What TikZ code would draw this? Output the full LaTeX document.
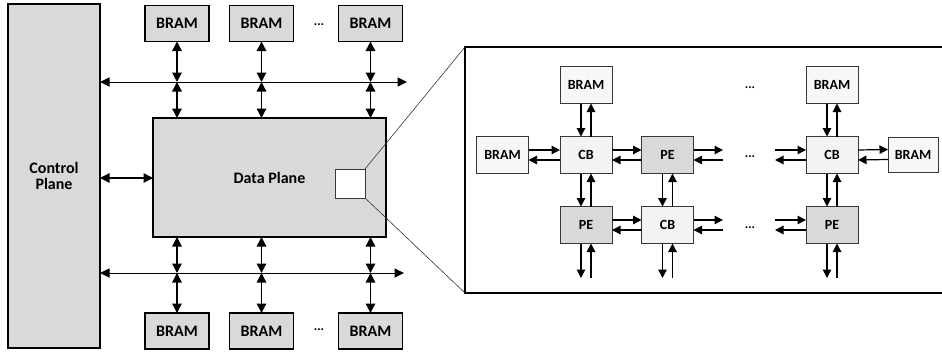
\documentclass[tikz,border=0pt]{standalone}
\usepackage{fontspec}
\setmainfont{Carlito}
\usetikzlibrary{arrows.meta}
\definecolor{boxgray}{RGB}{217,217,217}
\definecolor{pegray}{RGB}{217,217,217}
\definecolor{cbfill}{RGB}{243,243,243}
\definecolor{bramfill}{RGB}{247,247,247}
\definecolor{edgegray}{RGB}{55,55,55}
\begin{document}
\begin{tikzpicture}[x=1pt,y=-1pt,
  outerbox/.style={draw=black, line width=1.8pt, fill=boxgray, inner sep=0pt, outer sep=0pt, font=\fontsize{16}{18}\selectfont\bfseries},
  obram/.style={outerbox, minimum width=64pt, minimum height=36pt},
  innerbox/.style={draw=edgegray, line width=1pt, inner sep=0pt, outer sep=0pt, minimum width=52pt, minimum height=37pt, font=\fontsize{14}{16}\selectfont\bfseries},
  ibram/.style={innerbox, fill=bramfill},
  cbbox/.style={innerbox, fill=cbfill},
  pebox/.style={innerbox, fill=pegray},
  dots/.style={font=\fontsize{13}{13}\selectfont\bfseries, inner sep=0pt},
  biarrow/.style={line width=1.4pt, {Triangle[length=9.5pt,width=9.5pt]}-{Triangle[length=9.5pt,width=9.5pt]}},
  busarrow/.style={line width=1pt, {Triangle[length=9.5pt,width=9pt]}-{Triangle[length=9.5pt,width=9pt]}},
  iarrow/.style={line width=1.2pt, -{Triangle[length=8.5pt,width=8.5pt]}},
  zoomline/.style={draw=edgegray, line width=0.6pt}
]
\clip (0,0) rectangle (942,351);
\fill[white] (0,0) rectangle (942,351);

% ---------- left part ----------
\node[outerbox, minimum width=92pt, minimum height=344pt, align=center] (cp) at (54,176) {Control\\[-2pt]Plane};
\node[outerbox, minimum width=233pt, minimum height=119pt] (dp) at (269.5,177.5) {Data Plane};

\node[obram] (tb1) at (177,23.5) {BRAM};
\node[obram] (tb2) at (261.5,23.5) {BRAM};
\node[obram] (tb3) at (370.5,23.5) {BRAM};
\node[dots] (tdots) at (319,25) {...};

\node[obram] (bb1) at (177,331) {BRAM};
\node[obram] (bb2) at (261.5,331) {BRAM};
\node[obram] (bb3) at (370.5,331) {BRAM};
\node[dots] (bdots) at (319,330) {...};

\coordinate (busT) at (407,82);
\coordinate (busB) at (404,273);

\draw[busarrow] (cp.east |- busT) -- (busT);
\draw[busarrow] (cp.east |- busB) -- (busB);

\foreach \n in {1,2,3}{
  \draw[biarrow] (tb\n.south) -- (tb\n.south |- busT);
  \draw[biarrow] (tb\n.south |- busT) -- (tb\n.south |- dp.north);
  \draw[biarrow] (tb\n.south |- dp.south) -- (tb\n.south |- busB);
  \draw[biarrow] (tb\n.south |- busB) -- (bb\n.north);
}
\draw[biarrow] (cp.east |- 0,178) -- (dp.west |- 0,178);

% ---------- zoom panel ----------
\node[draw=black, line width=1.8pt, minimum width=485pt, minimum height=246pt, inner sep=0pt, outer sep=0pt] (panel) at (707.5,170) {};
\node[draw=edgegray, line width=0.8pt, fill=white, minimum width=30pt, minimum height=29pt, inner sep=0pt, outer sep=0pt] (zb) at (350,183.5) {};
\draw[zoomline] (zb.north east) -- (panel.north west);
\draw[zoomline] (zb.south east) -- (panel.south west);

% inner nodes
\node[ibram] (ibt1) at (586,85) {BRAM};
\node[ibram] (ibt2) at (832,85) {BRAM};
\node[ibram] (ibl) at (502.5,155) {BRAM};
\node[cbbox] (cb1) at (586,155) {CB};
\node[pebox] (pe1) at (667.5,155) {PE};
\node[cbbox] (cb3) at (832,155) {CB};
\node[ibram, minimum width=50pt, minimum height=35pt] (ibr) at (913,154.5) {BRAM};
\node[pebox] (pe2) at (586,225) {PE};
\node[cbbox] (cb2) at (667.5,225) {CB};
\node[pebox] (pe3) at (832,225) {PE};

\node[dots] (d1) at (750,88) {...};
\node[dots] (d2) at (750,157) {...};
\node[dots] (d3) at (750,228) {...};

% free ends
\coordinate (pe1r) at (723,155);
\coordinate (cb2r) at (723,225);
\coordinate (cb3l) at (775,155);
\coordinate (pe3l) at (775,225);
\coordinate (pe2b) at (586,278);
\coordinate (cb2b) at (667.5,278);
\coordinate (pe3b) at (832,278);

% vertical pairs
\foreach \a/\b in {ibt1/cb1, cb1/pe2, pe1/cb2, ibt2/cb3, cb3/pe3}{
  \draw[iarrow] ([xshift=-5pt]\a.south) -- ([xshift=-5pt]\b.north);
  \draw[iarrow] ([xshift=5pt]\b.north) -- ([xshift=5pt]\a.south);
}
\foreach \a/\b in {pe2/pe2b, cb2/cb2b, pe3/pe3b}{
  \draw[iarrow] ([xshift=-5pt]\a.south) -- ([xshift=-5pt]\b);
  \draw[iarrow] ([xshift=5pt]\b) -- ([xshift=5pt]\a.south);
}
% horizontal pairs
\foreach \a/\b in {ibl/cb1, cb1/pe1, pe2/cb2, cb3/ibr}{
  \draw[iarrow] ([yshift=5pt]\a.east) -- ([yshift=5pt]\b.west);
  \draw[iarrow] ([yshift=-5pt]\b.west) -- ([yshift=-5pt]\a.east);
}
\foreach \a/\b in {pe1/pe1r, cb2/cb2r}{
  \draw[iarrow] ([yshift=5pt]\a.east) -- ([yshift=5pt]\b);
  \draw[iarrow] ([yshift=-5pt]\b) -- ([yshift=-5pt]\a.east);
}
\foreach \a/\b in {cb3l/cb3, pe3l/pe3}{
  \draw[iarrow] ([yshift=5pt]\a) -- ([yshift=5pt]\b.west);
  \draw[iarrow] ([yshift=-5pt]\b.west) -- ([yshift=-5pt]\a);
}
\end{tikzpicture}
\end{document}
